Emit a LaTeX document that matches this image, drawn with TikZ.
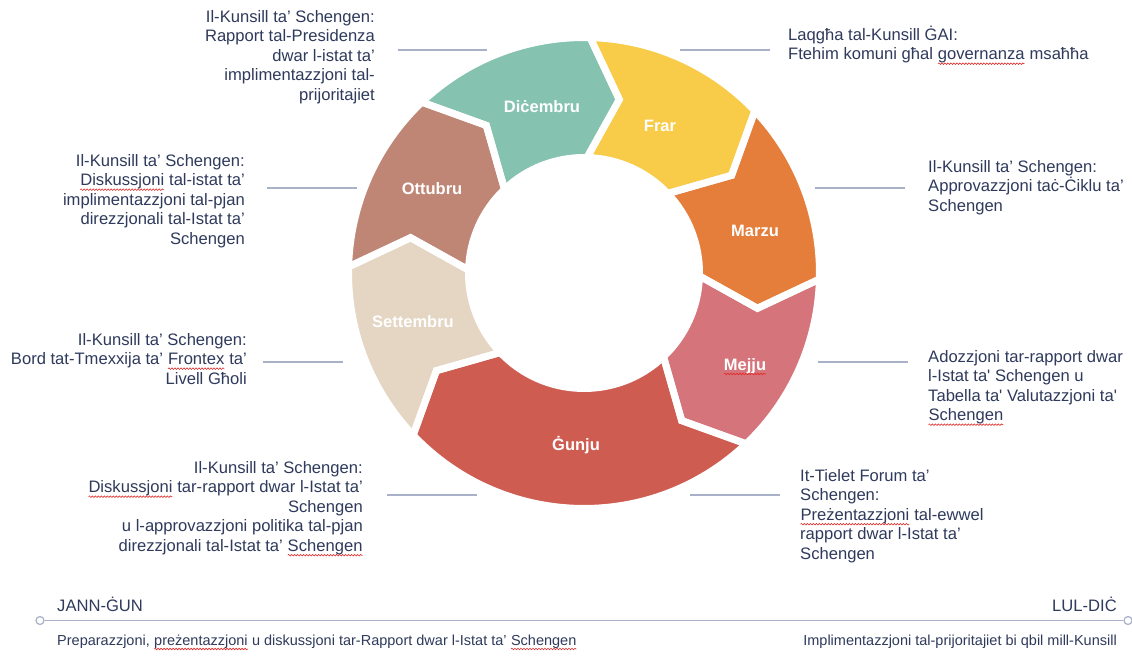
\documentclass[tikz,border=0pt]{standalone}
\usepackage{fontspec}
\setmainfont{Liberation Sans}
\usetikzlibrary{decorations.pathmorphing}
\definecolor{sqred}{RGB}{225,45,45}
\definecolor{txtblue}{RGB}{47,58,92}
\definecolor{linegrey}{RGB}{168,177,199}
\definecolor{cDic}{RGB}{133,195,176}
\definecolor{cFrar}{RGB}{248,203,72}
\definecolor{cMarzu}{RGB}{228,126,58}
\definecolor{cMejju}{RGB}{213,116,122}
\definecolor{cGunju}{RGB}{207,92,81}
\definecolor{cSett}{RGB}{228,214,195}
\definecolor{cOtt}{RGB}{191,134,118}
\newcommand\sqw[1]{\tikz[baseline=(sqwn.base)]{\node[inner sep=0pt, outer sep=0pt, anchor=base, draw=none, fill=none] (sqwn) at (0pt,0pt) {#1};\draw[sqred, line width=0.6pt, decorate, decoration={snake, amplitude=0.8pt, segment length=3pt}] ([yshift=-4pt]sqwn.base west) -- ([yshift=-4pt]sqwn.base east);}}
\newcommand\fs{\rule{0pt}{16pt}}
\def\Rout{235.5}
\def\Rin{115.5}
\def\Rmid{177}
\def\Tip{10}
\tikzset{
  segp/.style 2 args={insert path={(#1:\Rout) arc[start angle=#1, end angle=#2, radius=\Rout] -- ({#2-\Tip}:\Rmid) -- (#2:\Rin) arc[start angle=#2, end angle=#1, radius=\Rin] -- ({#1-\Tip}:\Rmid) -- cycle}},
  segedge/.style={draw=white, line width=7pt, line join=miter},
  month/.style={text=white, font=\fontsize{16.5}{20}\selectfont\bfseries, inner sep=0, anchor=base},
  lbl/.style={text=txtblue, font=\fontsize{16.6}{19.5}\selectfont, inner sep=0},
  lblR/.style={lbl, align=right, anchor=north east},
  lblL/.style={lbl, align=left, anchor=north west},
  small/.style={text=txtblue, font=\fontsize{14.5}{17}\selectfont, inner sep=0},
  period/.style={text=txtblue, font=\fontsize{16.6}{19.5}\selectfont, inner sep=0},
  tick/.style={draw=linegrey, line width=1.8pt},
  endpt/.style={circle, draw=linegrey, fill=white, line width=1.2pt, minimum size=8pt, inner sep=0},
}
\begin{document}
\begin{tikzpicture}[x=1pt, y=1pt]
\useasboundingbox (0,0) rectangle (1132,657);
\fill[white] (0,0) rectangle (1132,657);
% ring
\begin{scope}[shift={(584,384)}]
  \fill[cDic]   [segp={133.5}{88.5}];
  \fill[cFrar]  [segp={88.5}{43.5}];
  \fill[cMarzu] [segp={43.5}{-1.5}];
  \fill[cMejju] [segp={-1.5}{-46.5}];
  \fill[cGunju] [segp={-46.5}{-136.5}];
  \fill[cSett]  [segp={-136.5}{-181.5}];
  \fill[cOtt]   [segp={178.5}{133.5}];
  \foreach \a/\b in {133.5/88.5, 88.5/43.5, 43.5/-1.5, -1.5/-46.5, -46.5/-136.5, -136.5/-181.5, 178.5/133.5}
    \draw[segedge] [segp={\a}{\b}];
\end{scope}
% month labels
\node[month] (mDic) at (542,544) {Diċembru};
\node[month] (mFrar) at (660,525) {Frar};
\node[month] (mMarzu) at (755,420) {Marzu};
\node[month] (mMejju) at (745,287) {\sqw{Mejju}};
\node[month] (mGunju) at (576,207) {Ġunju};
\node[month] (mSett) at (413,330) {Settembru};
\node[month] (mOtt) at (432,462) {Ottubru};
% connector ticks
\coordinate (t1a) at (398,607); \coordinate (t1b) at (487,607);
\coordinate (t2a) at (680,607); \coordinate (t2b) at (770,607);
\coordinate (t3a) at (267,469); \coordinate (t3b) at (357,469);
\coordinate (t4a) at (815,469); \coordinate (t4b) at (905,469);
\coordinate (t5a) at (263,295); \coordinate (t5b) at (343,295);
\coordinate (t6a) at (818,295); \coordinate (t6b) at (908,295);
\coordinate (t7a) at (387,162); \coordinate (t7b) at (477,162);
\coordinate (t8a) at (690,162); \coordinate (t8b) at (780,162);
\foreach \i in {1,...,8} \draw[tick] (t\i a) -- (t\i b);
% labels
\node[lblR] (lDic) at (375,651) {\fs Il-Kunsill ta’ Schengen:\\Rapport tal-Presidenza\\dwar l-istat ta’\\implimentazzjoni tal-\\prijoritajiet};
\node[lblL] (lFrar) at (788,633) {\fs Laqgħa tal-Kunsill ĠAI:\\Ftehim komuni għal \sqw{governanza} msaħħa};
\node[lblR] (lOtt) at (245,507) {\fs Il-Kunsill ta’ Schengen:\\\sqw{Diskussjoni} tal-istat ta’\\implimentazzjoni tal-pjan\\direzzjonali tal-Istat ta’\\Schengen};
\node[lblL] (lMarzu) at (928,501) {\fs Il-Kunsill ta’ Schengen:\\Approvazzjoni taċ-Ċiklu ta’\\Schengen};
\node[lblR] (lSett) at (247,328) {\fs Il-Kunsill ta’ Schengen:\\Bord tat-Tmexxija ta’ \sqw{Frontex} ta’\\Livell Għoli};
\node[lblL] (lMejju) at (928,311) {\fs Adozzjoni tar-rapport dwar\\l-Istat ta\textquotesingle\ Schengen u\\Tabella ta\textquotesingle\ Valutazzjoni ta\textquotesingle\\\sqw{Schengen}};
\node[lblR] (lGunjuL) at (363,200) {\fs Il-Kunsill ta’ Schengen:\\\sqw{Diskussjoni} tar-rapport dwar l-Istat ta’\\Schengen\\u l-approvazzjoni politika tal-pjan\\direzzjonali tal-Istat ta’ \sqw{Schengen}};
\node[lblL] (lGunjuR) at (800,192) {\fs It-Tielet Forum ta’\\Schengen:\\\sqw{Preżentazzjoni} tal-ewwel\\rapport dwar l-Istat ta’\\Schengen};
% timeline
\node[endpt] (tl) at (40,36.5) {};
\node[endpt] (tr) at (1128,36.5) {};
\draw[draw=linegrey, line width=1.4pt] (tl) -- (tr);
\node[period, anchor=base west] (jann) at (57,45.5) {JANN-ĠUN};
\node[small, anchor=base west] (prep) at (57,12) {Preparazzjoni, \sqw{preżentazzjoni} u diskussjoni tar-Rapport dwar l-Istat ta’ \sqw{Schengen}};
\node[period, anchor=base east] (lul) at (1117,45.5) {LUL-DIĊ};
\node[small, anchor=base east] (impl) at (1117,12) {Implimentazzjoni tal-prijoritajiet bi qbil mill-Kunsill};
\end{tikzpicture}
\end{document}
